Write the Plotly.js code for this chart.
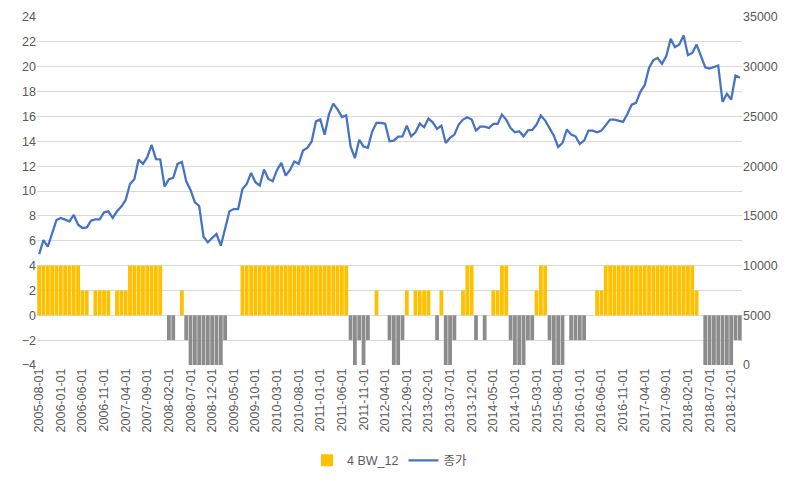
<!DOCTYPE html>
<html>
<head>
<meta charset="utf-8">
<script src="https://cdn.plot.ly/plotly-3.0.1.min.js"></script>
<style>
  html, body { margin: 0; padding: 0; background: #fff; }
  #chart { width: 800px; height: 481px; }
</style>
</head>
<body>
<div id="chart"></div>
<script>
// 월별 카테고리: 2005-08-01 ~ 2019-02-01
const startYear = 2005, startMonth = 8, monthCount = 163;
const months = [];
for (let k = 0; k < monthCount; k++) {
    const m = startMonth - 1 + k;
    const y = startYear + Math.floor(m / 12);
    const mm = (m % 12) + 1;
    months.push(y + '-' + String(mm).padStart(2, '0') + '-01');
}

// 4 BW_12 (left axis)
const bw12 = [
    4, 4, 4, 4, 4, 4, 4, 4, 4, 4,      // 0-9
    2, 2, 0, 2, 2, 2, 2, 0, 2, 2,      // 10-19
    2, 4, 4, 4, 4, 4, 4, 4, 4, 0,      // 20-29
    -2, -2, 0, 2, -2, -4, -4, -4, -4, -4, // 30-39
    -4, -4, -4, -2, 0, 0, 0, 4, 4, 4,  // 40-49
    4, 4, 4, 4, 4, 4, 4, 4, 4, 4,      // 50-59
    4, 4, 4, 4, 4, 4, 4, 4, 4, 4,      // 60-69
    4, 4, -2, -4, -2, -4, -2, 0, 2, 0, // 70-79
    0, -2, -4, -4, -2, 2, 0, 2, 2, 2,  // 80-89
    2, 0, -2, 2, -4, -4, -2, 0, 2, 4,  // 90-99
    4, -2, 0, -2, 0, 2, 2, 4, 4, -2,   // 100-109
    -4, -4, -4, -2, -2, 2, 4, 4, -2, -4, // 110-119
    -4, -4, 0, -2, -2, -2, -2, 0, 0, 2, // 120-129
    2, 4, 4, 4, 4, 4, 4, 4, 4, 4,      // 130-139
    4, 4, 4, 4, 4, 4, 4, 4, 4, 4,      // 140-149
    4, 4, 2, 0, -4, -4, -4, -4, -4, -4, // 150-159
    -4, -2, -2                          // 160-162
];

// 종가 (right axis)
const close = [
    11150, 12570, 11900, 13340, 14580, 14790, 14580, 14450, 15090, 14110,
    13780, 13840, 14520, 14650, 14650, 15360, 15460, 14790, 15460, 15930,
    16600, 18210, 18680, 20670, 20230, 20900, 22140, 20700, 20670, 17940,
    18680, 18820, 20230, 20430, 18480, 17610, 16360, 15990, 12900, 12330,
    12770, 13170, 12000, 13840, 15460, 15690, 15690, 17710, 18210, 19320,
    18380, 18040, 19660, 18720, 18480, 19620, 20330, 19050, 19620, 20460,
    20230, 21570, 21840, 22480, 24500, 24700, 23150, 25200, 26280, 25710,
    24930, 25100, 21980, 20800, 22650, 21980, 21840, 23490, 24360, 24360,
    24260, 22500, 22570, 22970, 23000, 24080, 23000, 23410, 24280, 23910,
    24780, 24410, 23740, 24080, 22330, 22840, 23170, 24180, 24680, 24920,
    24680, 23570, 23980, 23980, 23840, 24250, 24250, 25190, 24650, 23840,
    23410, 23510, 23000, 23610, 23640, 24180, 25080, 24580, 23840, 23070,
    21930, 22330, 23680, 23170, 23000, 22230, 22570, 23570, 23570, 23410,
    23570, 24180, 24680, 24680, 24580, 24450, 25250, 26190, 26360, 27470,
    28140, 29880, 30660, 30890, 30290, 31060, 32800, 31960, 32230, 33140,
    31160, 31390, 32230, 31060, 29950, 29820, 29950, 30120, 26460, 27270,
    26700, 29110, 28880
];

const tickLabels = months.filter((d, k) => k % 5 === 0);

const barColors = bw12.map(v => v < 0 ? '#8C8C8C' : '#FFC000');

const data = [
    {
        type: 'bar',
        x: months,
        y: bw12,
        name: '4 BW_12',
        marker: { color: barColors, line: { width: 0 } },
        yaxis: 'y'
    },
    {
        type: 'scatter',
        mode: 'lines',
        x: months,
        y: close,
        name: '종가',
        line: { color: '#4472C4', width: 2.25 },
        yaxis: 'y2'
    }
];

const font = { family: 'Liberation Sans, "Noto Sans CJK KR", sans-serif', size: 12.5, color: '#595959' };

const layout = {
    width: 800,
    height: 481,
    margin: { l: 37, r: 58, t: 17, b: 116, autoexpand: false },
    paper_bgcolor: '#fff',
    plot_bgcolor: '#fff',
    font: font,
    bargap: 0.12,
    showlegend: true,
    legend: {
        orientation: 'h',
        x: 0.5, xanchor: 'center',
        y: -0.275, yanchor: 'middle',
        font: font
    },
    xaxis: {
        type: 'category',
        tickmode: 'array',
        tickvals: tickLabels,
        ticktext: tickLabels,
        tickangle: -90,
        showgrid: false,
        showline: false,
        ticks: '',
        automargin: false,
        tickfont: font
    },
    yaxis: {
        range: [-4, 24],
        dtick: 2,
        showgrid: true,
        gridcolor: '#D9D9D9',
        gridwidth: 1,
        zeroline: true,
        zerolinecolor: '#D9D9D9',
        zerolinewidth: 1,
        showline: false,
        ticks: '',
        automargin: false,
        tickfont: font
    },
    yaxis2: {
        overlaying: 'y',
        side: 'right',
        range: [0, 35000],
        dtick: 5000,
        tickformat: 'd',
        showgrid: false,
        zeroline: false,
        showline: false,
        ticks: '',
        automargin: false,
        tickfont: font
    }
};

Plotly.newPlot('chart', data, layout, { displayModeBar: false, staticPlot: true });
</script>
</body>
</html>
